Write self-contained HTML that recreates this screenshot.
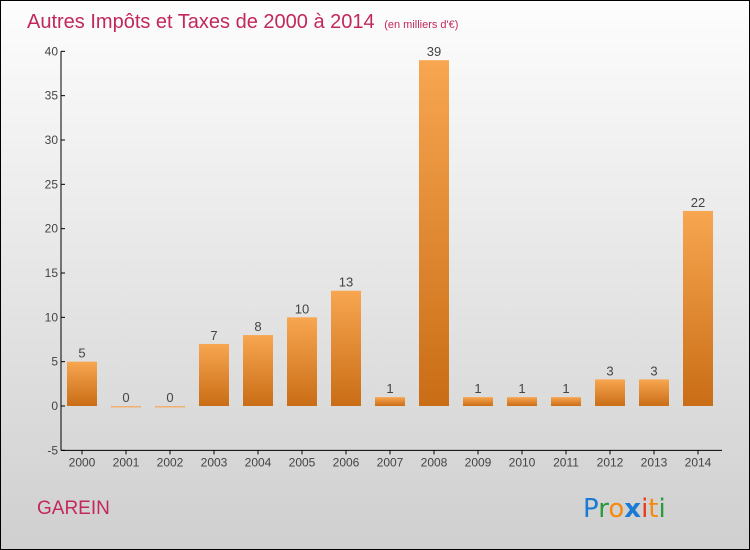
<!DOCTYPE html>
<html><head><meta charset="utf-8"><style>
html,body{margin:0;padding:0}
body{width:750px;height:550px;overflow:hidden;font-family:"Liberation Sans",sans-serif}
#wrap{position:relative;width:748px;height:548px;border:1px solid #000;background:linear-gradient(#fdfdfd,#cfcfcf)}
svg{position:absolute;left:0;top:0}
</style></head><body>
<div id="wrap">
<svg id="chart" width="748" height="548">
<defs><linearGradient id="bg" x1="0" y1="0" x2="0" y2="1"><stop offset="0" stop-color="#f8a650"/><stop offset="1" stop-color="#c96d16"/></linearGradient></defs>
<text x="26" y="27" font-size="20" fill="#c2285a">Autres Impôts et Taxes de 2000 à 2014 <tspan font-size="11" dx="4">(en milliers d'€)</tspan></text>
<text x="36" y="513" font-size="19" fill="#c2285a">GAREIN</text>
<g font-size="26" font-family="DejaVu Sans, sans-serif">
<text x="582" y="516"><tspan fill="#1a7ad4">P</tspan><tspan fill="#2a9a3a">r</tspan><tspan fill="#f58a10">o</tspan><tspan fill="#1a7ad4" font-weight="bold">x</tspan><tspan fill="#e83a1a">i</tspan><tspan fill="#f58a10">t</tspan><tspan fill="#2a9a3a">i</tspan></text>
</g>
<g id="axes"></g><g id="bars"></g>
</svg></div>
<script>
const categories=["2000","2001","2002","2003","2004","2005","2006","2007","2008","2009","2010","2011","2012","2013","2014"];
const values=[5,0,0,7,8,10,13,1,39,1,1,1,3,3,22];
const yTicks=[-5,0,5,10,15,20,25,30,35,40];
const NS="http://www.w3.org/2000/svg";
const y0=405,pxPer=(449-50)/45,x0=60,step=44,first=81,bw=30;
const y=v=>y0-v*pxPer, x=i=>first+i*step;
function mk(t,a,p){const e=document.createElementNS(NS,t);for(const k in a)e.setAttribute(k,a[k]);p.appendChild(e);return e;}
const ax=document.getElementById('axes'),bars=document.getElementById('bars');
let l=mk('line',{x1:x0,y1:y(40),x2:x0,y2:y(-5),stroke:'#000'},ax);


l=mk('line',{x1:x0,y1:y(-5),x2:721,y2:y(-5),stroke:'#000'},ax);


yTicks.forEach(t=>{mk('line',{x1:x0,y1:y(t),x2:x0+4,y2:y(t),stroke:'#000'},ax);
const tx=mk('text',{x:x0-3,y:y(t)+4,'font-size':12,fill:'#444','text-anchor':'end'},ax);tx.textContent=t;

});
categories.forEach((c,i)=>{mk('line',{x1:x(i),y1:y(-5),x2:x(i),y2:y(-5)+4,stroke:'#000'},ax);
const tx=mk('text',{x:x(i),y:y(-5)+16,'font-size':12,fill:'#444','text-anchor':'middle'},ax);tx.textContent=c;


const v=values[i];const h=Math.max(Math.abs(v*pxPer),1.5);
const r=mk('rect',{x:x(i)-bw/2,y:v>=0?y(v):y0,width:bw,height:h,fill:v===0?'#f0b070':'url(#bg)'},bars);


const vl=mk('text',{x:x(i),y:y(Math.max(v,0))-4,'font-size':13,fill:'#444','text-anchor':'middle'},bars);vl.textContent=v;

});
</script>
</body></html>
